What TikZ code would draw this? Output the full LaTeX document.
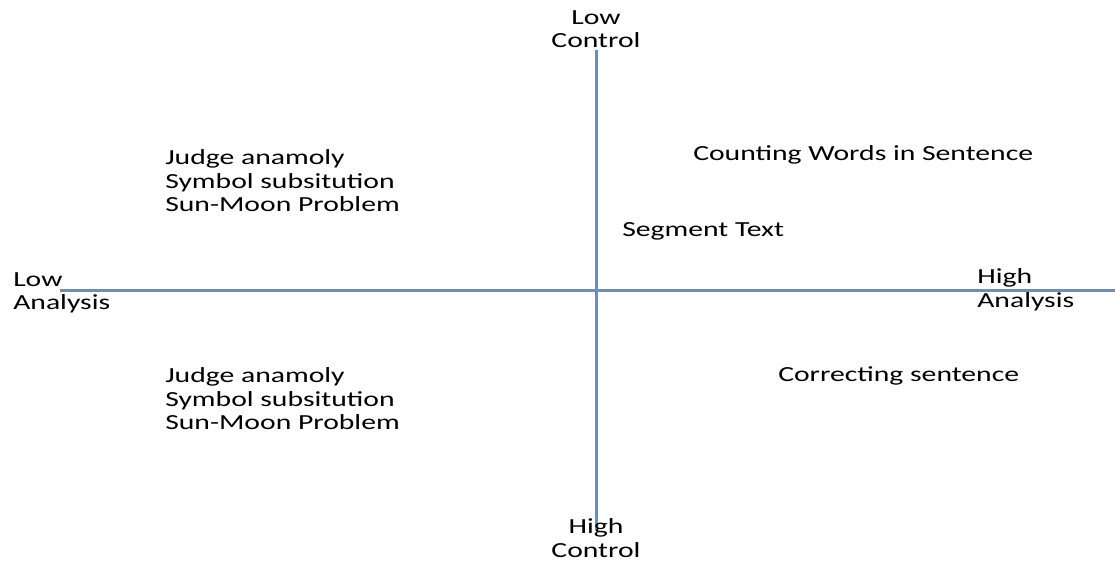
\documentclass[tikz,border=0pt]{standalone}
\usepackage{fontspec}
\setmainfont{Carlito}
\usepackage{tikz}
\usetikzlibrary{positioning}
\definecolor{axisblue}{RGB}{100,144,197}

\begin{document}
\begin{tikzpicture}[x=1pt, y=-1pt, line cap=butt,
    axis/.style={line width=3pt, axisblue},
    lbl/.style={inner sep=0pt, align=left, xscale=1.38, transform shape,
      font=\fontsize{21.5}{23.5}\selectfont},
    endlbl/.style={lbl, align=center}]
  \useasboundingbox (0,0) rectangle (1115,562);
  %--- Axes
    \coordinate (ctop) at (596,50);
    \coordinate (cbot) at (596,530);
    \coordinate (aleft) at (60,290);
    \coordinate (aright) at (1115,290);
    \draw[axis] (aleft) -- (aright);
    \draw[axis] (ctop) -- (cbot);
  %--- Axis ends
    \node[endlbl] (lowctl) at (596,29) {Low\\Control};
    \node[endlbl] (highctl) at (596,538) {High\\Control};
    \node[lbl, anchor=west] (lowana) at (13,293) {Low\\Analysis};
    \node[lbl, anchor=west] (highana) at (977,290) {High\\Analysis};
  %--- Upper left
    \node[lbl, anchor=west] (ulbox) at (165,181)
      {Judge anamoly\\Symbol subsitution\\Sun-Moon Problem};
  %--- Upper right
    \node[lbl, anchor=west] (count) at (693,155) {Counting Words in Sentence};
    \node[lbl, anchor=west] (segment) at (622,231) {Segment Text};
  %--- Lower left
    \node[lbl, anchor=west] (llbox) at (165,399)
      {Judge anamoly\\Symbol subsitution\\Sun-Moon Problem};
  %--- Lower right
    \node[lbl, anchor=west] (correct) at (778,376) {Correcting sentence};
\end{tikzpicture}
\end{document}
